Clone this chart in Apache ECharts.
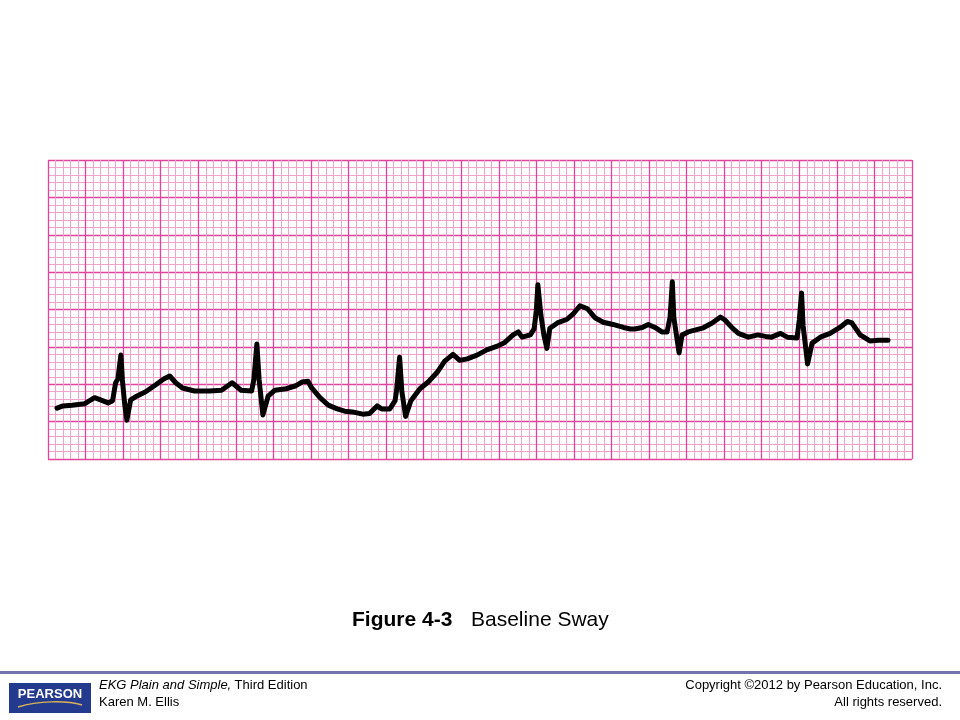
<!DOCTYPE html>
<html>
<head>
<meta charset="utf-8">
<script src="https://cdn.jsdelivr.net/npm/echarts@6/dist/echarts.min.js"></script>
<style>
html,body{margin:0;padding:0;background:#fff;}
#chart{width:960px;height:720px;}
</style>
</head>
<body>
<div id="chart"></div>
<script>
// Time along the strip, in small boxes (1 mm)
var traceX = [1.2,2.0,3.2,4.9,6.2,7.0,8.0,8.6,9.0,9.3,9.7,9.9,10.2,10.5,11.0,11.8,13.0,14.3,15.4,16.2,
  17.0,17.9,19.5,21.5,23.1,24.5,25.7,27.1,27.4,27.8,28.1,28.6,29.3,30.2,31.7,33.0,33.8,34.6,35.1,36.2,
  37.3,38.5,39.5,40.5,41.9,42.8,43.8,44.4,45.5,46.2,46.4,46.8,47.1,47.6,48.3,49.5,50.6,51.8,52.8,53.9,
  54.8,55.8,57.1,58.4,59.8,60.8,61.9,62.6,63.1,64.2,64.7,65.0,65.2,65.6,66.0,66.4,66.8,67.8,69.1,69.9,
  70.8,71.8,72.8,73.9,75.2,76.6,77.5,78.1,79.1,79.9,80.8,81.7,82.4,82.8,83.1,83.3,84.0,84.4,85.2,87.1,
  88.4,89.5,90.1,91.1,91.9,93.2,94.5,95.5,96.3,97.5,98.4,99.7,100.0,100.3,100.5,101.1,101.7,102.8,104.1,105.4,
  106.4,107.0,108.1,109.4,110.5,111.8];
// Amplitude, in small boxes above the bottom edge of the grid
var traceY = [6.8,7.1,7.2,7.4,8.2,7.9,7.5,7.8,10.2,10.7,13.9,10.6,7.4,5.2,7.9,8.4,9.0,9.9,10.7,11.1,
  10.2,9.5,9.1,9.1,9.2,10.2,9.2,9.1,10.6,15.4,10.6,5.9,8.4,9.2,9.4,9.8,10.3,10.4,9.5,8.2,
  7.2,6.7,6.4,6.3,6.0,6.1,7.1,6.7,6.7,7.8,9.2,13.6,9.0,5.7,7.8,9.4,10.3,11.6,13.1,14.0,
  13.2,13.4,13.9,14.6,15.1,15.6,16.6,17.0,16.3,16.6,17.4,19.9,23.3,19.3,16.6,14.8,17.5,18.2,18.7,19.4,
  20.5,20.1,18.9,18.3,18.0,17.6,17.4,17.4,17.6,18.0,17.6,17.0,17.0,19.0,23.7,18.9,14.2,16.6,17.0,17.5,
  18.2,19.0,18.6,17.5,16.8,16.3,16.6,16.4,16.3,16.8,16.3,16.2,18.6,22.2,17.9,12.7,15.5,16.3,16.8,17.6,
  18.4,18.2,16.6,15.8,15.9,15.9];

var paperWidth = 115;   // small boxes
var paperHeight = 40;   // small boxes
var majorBox = 5;

var titleBold = 'Figure 4-3';
var titleRest = 'Baseline Sway';
var footLeft1Italic = 'EKG Plain and Simple,';
var footLeft1Rest = ' Third Edition';
var footLeft2 = 'Karen M. Ellis';
var footRight1 = 'Copyright \u00a92012 by Pearson Education, Inc.';
var footRight2 = 'All rights reserved.';
var logoText = 'PEARSON';

var data = traceX.map(function (x, i) { return [x, traceY[i]]; });

var majorColor = '#e2439c';
var minorColor = '#f2a2cb';
var font = '"Liberation Sans", Arial, sans-serif';

var chart = echarts.init(document.getElementById('chart'), null, {renderer: 'canvas'});
chart.setOption({
  backgroundColor: '#ffffff',
  animation: false,
  grid: {left: 48, right: 48, top: 160, bottom: 261, containLabel: false},
  xAxis: {
    type: 'value', min: 0, max: paperWidth, interval: majorBox,
    axisLabel: {show: false}, axisTick: {show: false},
    axisLine: {show: false},
    splitLine: {show: true, lineStyle: {color: majorColor, width: 1.3}},
    minorTick: {show: false, splitNumber: 5},
    minorSplitLine: {show: true, lineStyle: {color: minorColor, width: 1}}
  },
  yAxis: {
    type: 'value', min: 0, max: paperHeight, interval: majorBox,
    axisLabel: {show: false}, axisTick: {show: false},
    axisLine: {show: false},
    splitLine: {show: true, lineStyle: {color: majorColor, width: 1.3}},
    minorTick: {show: false, splitNumber: 5},
    minorSplitLine: {show: true, lineStyle: {color: minorColor, width: 1}}
  },
  series: [{
    type: 'line',
    data: data,
    showSymbol: false,
    symbol: 'none',
    smooth: false,
    clip: false,
    lineStyle: {color: '#000000', width: 5, join: 'round', cap: 'round'},
    z: 5
  }],
  graphic: [
    {type: 'text', left: 352, top: 610, style: {text: titleBold, font: 'bold 21px ' + font, fill: '#000'}},
    {type: 'text', left: 471, top: 610, style: {text: titleRest, font: '21px ' + font, fill: '#000'}},
    {type: 'rect', left: 0, top: 671, shape: {width: 960, height: 3}, style: {fill: '#7474aa'}},
    {type: 'rect', left: 9, top: 683, shape: {width: 82, height: 30}, style: {fill: '#233a8f'}},
    {type: 'text', x: 50, y: 694, style: {text: logoText, font: 'bold 13px ' + font, fill: '#ffffff', align: 'center', verticalAlign: 'middle'}},
    {type: 'bezierCurve', shape: {x1: 18, y1: 707, x2: 82, y2: 705, cpx1: 38, cpy1: 701, cpx2: 65, cpy2: 700},
      style: {stroke: '#d6b35a', lineWidth: 1.4, fill: null}},
    {type: 'text', left: 99, top: 679, style: {text: footLeft1Italic, font: 'italic 13px ' + font, fill: '#000'}},
    {type: 'text', left: 231, top: 679, style: {text: footLeft1Rest, font: '13px ' + font, fill: '#000'}},
    {type: 'text', left: 99, top: 696, style: {text: footLeft2, font: '13px ' + font, fill: '#000'}},
    {type: 'text', right: 18, top: 679, style: {text: footRight1, font: '13px ' + font, fill: '#000', textAlign: 'right'}},
    {type: 'text', right: 18, top: 696, style: {text: footRight2, font: '13px ' + font, fill: '#000', textAlign: 'right'}}
  ]
});
</script>
</body>
</html>
